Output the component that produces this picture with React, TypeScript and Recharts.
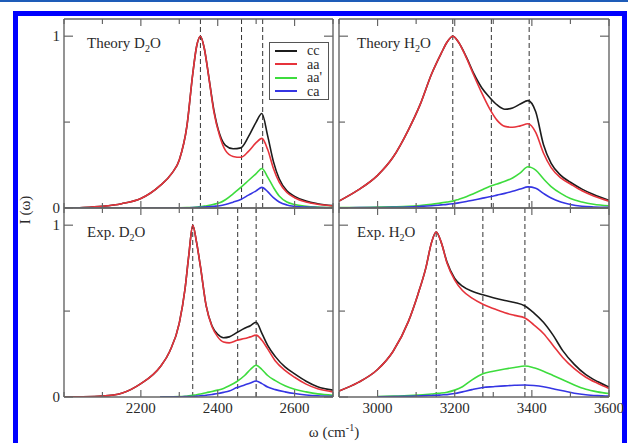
import { LineChart, Line, XAxis, YAxis, ReferenceLine, Legend } from 'recharts';

const W = 628;
const H = 443;
const SERIF = '"Liberation Serif", "DejaVu Serif", serif';
const FRAME = '#666';
const TEXT = '#2a2a2a';

// series
const seriesKeys = ['cc', 'aa', 'aap', 'ca'];
const seriesNames = ['cc', 'aa', "aa'", 'ca'];
const seriesColors = ['#1c1c1c', '#e6333b', '#3ddc3d', '#3535e3'];

// axis ticks
const d2oTicks = [2000, 2100, 2200, 2300, 2400, 2500, 2600, 2700];
const d2oLabels = [2200, 2400, 2600];
const h2oTicks = [2900, 3000, 3100, 3200, 3300, 3400, 3500, 3600];
const h2oLabels = [3000, 3200, 3400, 3600];
const yTicks = [0, 0.5, 1];
const yLabels = [0, 1];

// Theory D2O
const thD2oW = [2000, 2050, 2100, 2150, 2200, 2250, 2280, 2300, 2320, 2335, 2345, 2355, 2365, 2375, 2390, 2405, 2420, 2440, 2460, 2480, 2500, 2515, 2530, 2545, 2560, 2580, 2600, 2630, 2660, 2700];
const thD2oCc = [0, 0.003, 0.01, 0.025, 0.055, 0.13, 0.2, 0.28, 0.48, 0.78, 0.94, 1.0, 0.93, 0.79, 0.57, 0.43, 0.365, 0.345, 0.35, 0.415, 0.5, 0.55, 0.42, 0.27, 0.17, 0.1, 0.068, 0.04, 0.025, 0.014];
const thD2oAa = [0, 0.003, 0.01, 0.025, 0.055, 0.13, 0.2, 0.28, 0.48, 0.78, 0.94, 1.0, 0.93, 0.79, 0.56, 0.42, 0.335, 0.3, 0.295, 0.33, 0.38, 0.405, 0.34, 0.23, 0.15, 0.09, 0.06, 0.035, 0.022, 0.012];
const thD2oAap = [0, 0, 0, 0, 0, 0, 0, 0.001, 0.002, 0.003, 0.005, 0.008, 0.011, 0.015, 0.022, 0.03, 0.048, 0.082, 0.12, 0.16, 0.2, 0.23, 0.18, 0.12, 0.07, 0.035, 0.02, 0.01, 0.005, 0.002];
const thD2oCa = [0, 0, 0, 0, 0, 0, 0, 0, 0.001, 0.002, 0.003, 0.004, 0.005, 0.007, 0.01, 0.013, 0.02, 0.034, 0.05, 0.075, 0.1, 0.12, 0.095, 0.06, 0.035, 0.018, 0.01, 0.005, 0.003, 0.001];
const thD2oPeaks = [2355, 2462, 2517];

// Theory H2O
const thH2oW = [2900, 2950, 3000, 3040, 3080, 3110, 3140, 3165, 3180, 3195, 3210, 3230, 3250, 3270, 3290, 3310, 3330, 3350, 3370, 3390, 3410, 3430, 3450, 3475, 3500, 3530, 3560, 3600];
const thH2oCc = [0.04, 0.105, 0.19, 0.295, 0.455, 0.6, 0.78, 0.9, 0.965, 1.0, 0.965, 0.88, 0.78, 0.7, 0.645, 0.6, 0.575, 0.582, 0.605, 0.625, 0.56, 0.37, 0.26, 0.19, 0.15, 0.11, 0.078, 0.045];
const thH2oAa = [0.04, 0.105, 0.19, 0.295, 0.455, 0.6, 0.78, 0.9, 0.965, 1.0, 0.965, 0.875, 0.77, 0.67, 0.58, 0.51, 0.475, 0.47, 0.478, 0.49, 0.44, 0.32, 0.235, 0.175, 0.14, 0.1, 0.07, 0.04];
const thH2oAap = [0.002, 0.003, 0.005, 0.007, 0.01, 0.015, 0.022, 0.03, 0.035, 0.04, 0.05, 0.065, 0.085, 0.105, 0.125, 0.14, 0.155, 0.175, 0.205, 0.24, 0.22, 0.17, 0.125, 0.085, 0.055, 0.035, 0.022, 0.013];
const thH2oCa = [0.001, 0.002, 0.003, 0.004, 0.006, 0.009, 0.013, 0.018, 0.021, 0.025, 0.03, 0.038, 0.047, 0.056, 0.065, 0.075, 0.085, 0.097, 0.11, 0.123, 0.115, 0.085, 0.058, 0.035, 0.02, 0.01, 0.006, 0.004];
const thH2oPeaks = [3195, 3295, 3393];

// Exp. D2O
const exD2oW = [2000, 2050, 2100, 2150, 2200, 2250, 2275, 2300, 2315, 2325, 2335, 2345, 2355, 2370, 2385, 2400, 2415, 2430, 2450, 2470, 2485, 2500, 2515, 2530, 2550, 2575, 2600, 2630, 2660, 2700];
const exD2oCc = [0, 0.001, 0.005, 0.022, 0.078, 0.175, 0.265, 0.43, 0.63, 0.83, 1.0, 0.9, 0.76, 0.53, 0.415, 0.365, 0.345, 0.35, 0.375, 0.4, 0.415, 0.435, 0.37, 0.3, 0.235, 0.175, 0.135, 0.092, 0.06, 0.04];
const exD2oAa = [0, 0.001, 0.005, 0.022, 0.078, 0.175, 0.265, 0.43, 0.63, 0.83, 1.0, 0.9, 0.76, 0.53, 0.41, 0.35, 0.32, 0.315, 0.33, 0.34, 0.35, 0.36, 0.33, 0.28, 0.21, 0.155, 0.115, 0.075, 0.048, 0.03];
const exD2oAap = [null, null, null, null, null, 0, 0.001, 0.002, 0.004, 0.007, 0.01, 0.013, 0.017, 0.025, 0.032, 0.04, 0.05, 0.065, 0.09, 0.125, 0.16, 0.185, 0.16, 0.125, 0.095, 0.065, 0.045, 0.03, 0.018, 0.01];
const exD2oCa = [null, null, null, null, null, 0, 0, 0.001, 0.002, 0.002, 0.003, 0.005, 0.007, 0.01, 0.015, 0.02, 0.027, 0.035, 0.055, 0.07, 0.082, 0.093, 0.078, 0.058, 0.043, 0.03, 0.02, 0.012, 0.007, 0.004];
const exD2oPeaks = [2335, 2452, 2500];

// Exp. H2O
const exH2oW = [2900, 2950, 3000, 3040, 3080, 3105, 3125, 3140, 3152, 3165, 3180, 3200, 3220, 3245, 3273, 3300, 3330, 3355, 3382, 3405, 3430, 3455, 3480, 3510, 3540, 3570, 3600];
const exH2oCc = [0.035, 0.085, 0.16, 0.265, 0.44, 0.6, 0.75, 0.9, 0.96, 0.9, 0.785, 0.69, 0.645, 0.615, 0.595, 0.578, 0.562, 0.55, 0.53, 0.49, 0.435, 0.36, 0.27, 0.19, 0.13, 0.09, 0.058];
const exH2oAa = [0.035, 0.085, 0.16, 0.265, 0.44, 0.6, 0.75, 0.9, 0.96, 0.9, 0.78, 0.68, 0.62, 0.575, 0.54, 0.515, 0.49, 0.475, 0.46, 0.42, 0.37, 0.3, 0.23, 0.165, 0.115, 0.08, 0.05];
const exH2oAap = [null, null, 0.002, 0.005, 0.008, 0.011, 0.014, 0.017, 0.02, 0.023, 0.028, 0.04, 0.06, 0.1, 0.135, 0.15, 0.163, 0.172, 0.18, 0.17, 0.15, 0.125, 0.1, 0.07, 0.045, 0.03, 0.02];
const exH2oCa = [null, null, 0.001, 0.002, 0.004, 0.006, 0.008, 0.009, 0.01, 0.012, 0.014, 0.02, 0.03, 0.043, 0.055, 0.06, 0.065, 0.068, 0.07, 0.067, 0.06, 0.048, 0.036, 0.022, 0.013, 0.008, 0.005];
const exH2oPeaks = [3152, 3273, 3382];

type Val = number | null;

function buildRows(w: number[], cc: Val[], aa: Val[], aap: Val[], ca: Val[]) {
  return w.map((x, i) => ({ w: x, cc: cc[i], aa: aa[i], aap: aap[i], ca: ca[i] }));
}

const LegendBox = () => (
  <div
    style={{
      border: '1px solid #555',
      background: '#fff',
      width: 60,
      height: 58,
      boxSizing: 'border-box',
      padding: '1px 0 0 5px',
      fontFamily: SERIF,
      fontSize: 14,
      color: TEXT,
    }}
  >
    {seriesNames.map((n, i) => (
      <div key={n} style={{ display: 'flex', alignItems: 'center', height: 13.5 }}>
        <span
          style={{
            display: 'inline-block',
            width: 22,
            height: 0,
            borderTop: `2px solid ${seriesColors[i]}`,
            marginRight: 10,
          }}
        />
        <span style={{ lineHeight: '13.5px' }}>{n}</span>
      </div>
    ))}
  </div>
);

interface PanelProps {
  rows: ReturnType<typeof buildRows>;
  xDomain: [number, number];
  xTicks: number[];
  xLabels: number[];
  peaks: number[];
  px: [number, number];
  py: [number, number];
  showXLabels?: boolean;
  showYLabels?: boolean;
  legend?: boolean;
}

function Panel({ rows, xDomain, xTicks, xLabels, peaks, px, py, showXLabels, showYLabels, legend }: PanelProps) {
  const [x0, x1] = px;
  const [y0, y1] = py;

  // ticks point into the frame, on both sides
  const XTick = (p: any) => {
    const v = p.payload.value;
    const major = xLabels.includes(v);
    const len = major ? 7 : 5;
    return (
      <g>
        <line x1={p.x} x2={p.x} y1={y1} y2={y1 - len} stroke={FRAME} strokeWidth={1.2} />
        <line x1={p.x} x2={p.x} y1={y0} y2={y0 + len} stroke={FRAME} strokeWidth={1.2} />
        {showXLabels && major && (
          <text x={p.x} y={413} textAnchor="middle" fontFamily={SERIF} fontSize={15} fill={TEXT}>
            {v}
          </text>
        )}
      </g>
    );
  };

  const YTick = (p: any) => {
    const v = p.payload.value;
    const len = v === 0.5 ? 6 : 9;
    return (
      <g>
        <line x1={x0} x2={x0 + len} y1={p.y} y2={p.y} stroke={FRAME} strokeWidth={1.2} />
        <line x1={x1} x2={x1 - len} y1={p.y} y2={p.y} stroke={FRAME} strokeWidth={1.2} />
        {showYLabels && yLabels.includes(v) && (
          <text x={60} y={p.y + 5} textAnchor="end" fontFamily={SERIF} fontSize={15} fill={TEXT}>
            {v}
          </text>
        )}
      </g>
    );
  };

  const axisLine = { stroke: FRAME, strokeWidth: 1.4 };

  // each axis takes 1px, so the margins leave the plot area exactly at px/py
  return (
    <div style={{ position: 'absolute', left: 0, top: 0 }}>
      <LineChart
        width={W}
        height={H}
        data={rows}
        margin={{ top: y0 - 1, bottom: H - y1 - 1, left: x0 - 1, right: W - x1 - 1 }}
      >
        <XAxis
          dataKey="w"
          type="number"
          domain={xDomain}
          ticks={xTicks}
          interval={0}
          height={1}
          tickLine={false}
          axisLine={axisLine}
          tick={XTick}
          allowDataOverflow
        />
        <XAxis
          xAxisId="top"
          orientation="top"
          dataKey="w"
          type="number"
          domain={xDomain}
          height={1}
          tick={false}
          tickLine={false}
          axisLine={axisLine}
          allowDataOverflow
        />
        <YAxis
          type="number"
          domain={[0, 1.1]}
          ticks={yTicks}
          interval={0}
          width={1}
          tickLine={false}
          axisLine={axisLine}
          tick={YTick}
          allowDataOverflow
        />
        <YAxis
          yAxisId="right"
          orientation="right"
          type="number"
          domain={[0, 1.1]}
          width={1}
          tick={false}
          tickLine={false}
          axisLine={axisLine}
          allowDataOverflow
        />
        {peaks.map(p => (
          <ReferenceLine key={p} x={p} stroke="#333" strokeWidth={1} strokeDasharray="5 3" />
        ))}
        {seriesKeys.map((k, i) => (
          <Line
            key={k}
            dataKey={k}
            name={seriesNames[i]}
            type="monotone"
            stroke={seriesColors[i]}
            strokeWidth={1.6}
            dot={false}
            activeDot={false}
            isAnimationActive={false}
          />
        ))}
        {legend && (
          <Legend
            layout="vertical"
            align="center"
            verticalAlign="middle"
            width={60}
            height={58}
            wrapperStyle={{ left: 269, top: 42, width: 60, height: 58 }}
            content={() => <LegendBox />}
          />
        )}
      </LineChart>
    </div>
  );
}

const Title = ({ x, y, head }: { x: number; y: number; head: string }) => (
  <text x={x} y={y} fontFamily={SERIF} fontSize={15} fill={TEXT}>
    {head}
    <tspan fontSize={10} dy={4}>2</tspan>
    <tspan dy={-4}>O</tspan>
  </text>
);

export default function App() {
  return (
    <div style={{ position: 'absolute', left: 0, top: 0, width: W, height: H, background: '#fff', overflow: 'hidden' }}>
      <div style={{ position: 'absolute', left: 0, top: 0, width: W, height: 2, background: '#1e5cb8' }} />
      <div
        style={{
          position: 'absolute',
          left: 13,
          top: 11,
          width: 614,
          height: 460,
          boxSizing: 'border-box',
          border: '5px solid #0000ff',
        }}
      />
      <Panel
        rows={buildRows(thD2oW, thD2oCc, thD2oAa, thD2oAap, thD2oCa)}
        xDomain={[2000, 2700]}
        xTicks={d2oTicks}
        xLabels={d2oLabels}
        peaks={thD2oPeaks}
        px={[64, 333]}
        py={[19, 208]}
        showYLabels
        legend
      />
      <Panel
        rows={buildRows(thH2oW, thH2oCc, thH2oAa, thH2oAap, thH2oCa)}
        xDomain={[2900, 3600]}
        xTicks={h2oTicks}
        xLabels={h2oLabels}
        peaks={thH2oPeaks}
        px={[339, 609]}
        py={[19, 208]}
      />
      <Panel
        rows={buildRows(exD2oW, exD2oCc, exD2oAa, exD2oAap, exD2oCa)}
        xDomain={[2000, 2700]}
        xTicks={d2oTicks}
        xLabels={d2oLabels}
        peaks={exD2oPeaks}
        px={[64, 333]}
        py={[208, 397]}
        showXLabels
        showYLabels
      />
      <Panel
        rows={buildRows(exH2oW, exH2oCc, exH2oAa, exH2oAap, exH2oCa)}
        xDomain={[2900, 3600]}
        xTicks={h2oTicks}
        xLabels={h2oLabels}
        peaks={exH2oPeaks}
        px={[339, 609]}
        py={[208, 397]}
        showXLabels
      />
      <svg width={W} height={H} style={{ position: 'absolute', left: 0, top: 0, pointerEvents: 'none' }}>
        <Title x={87} y={48} head="Theory D" />
        <Title x={357} y={48} head="Theory H" />
        <Title x={87} y={237} head="Exp. D" />
        <Title x={357} y={237} head="Exp. H" />
        <text
          x={25}
          y={210}
          transform="rotate(-90 25 210)"
          textAnchor="middle"
          dominantBaseline="central"
          fontFamily={SERIF}
          fontSize={15}
          fill={TEXT}
        >
          I (ω)
        </text>
        <text x={334} y={437} textAnchor="middle" fontFamily={SERIF} fontSize={15} fill={TEXT}>
          ω  (cm
          <tspan fontSize={10} dy={-6}>-1</tspan>
          <tspan dy={6}>)</tspan>
        </text>
      </svg>
    </div>
  );
}
